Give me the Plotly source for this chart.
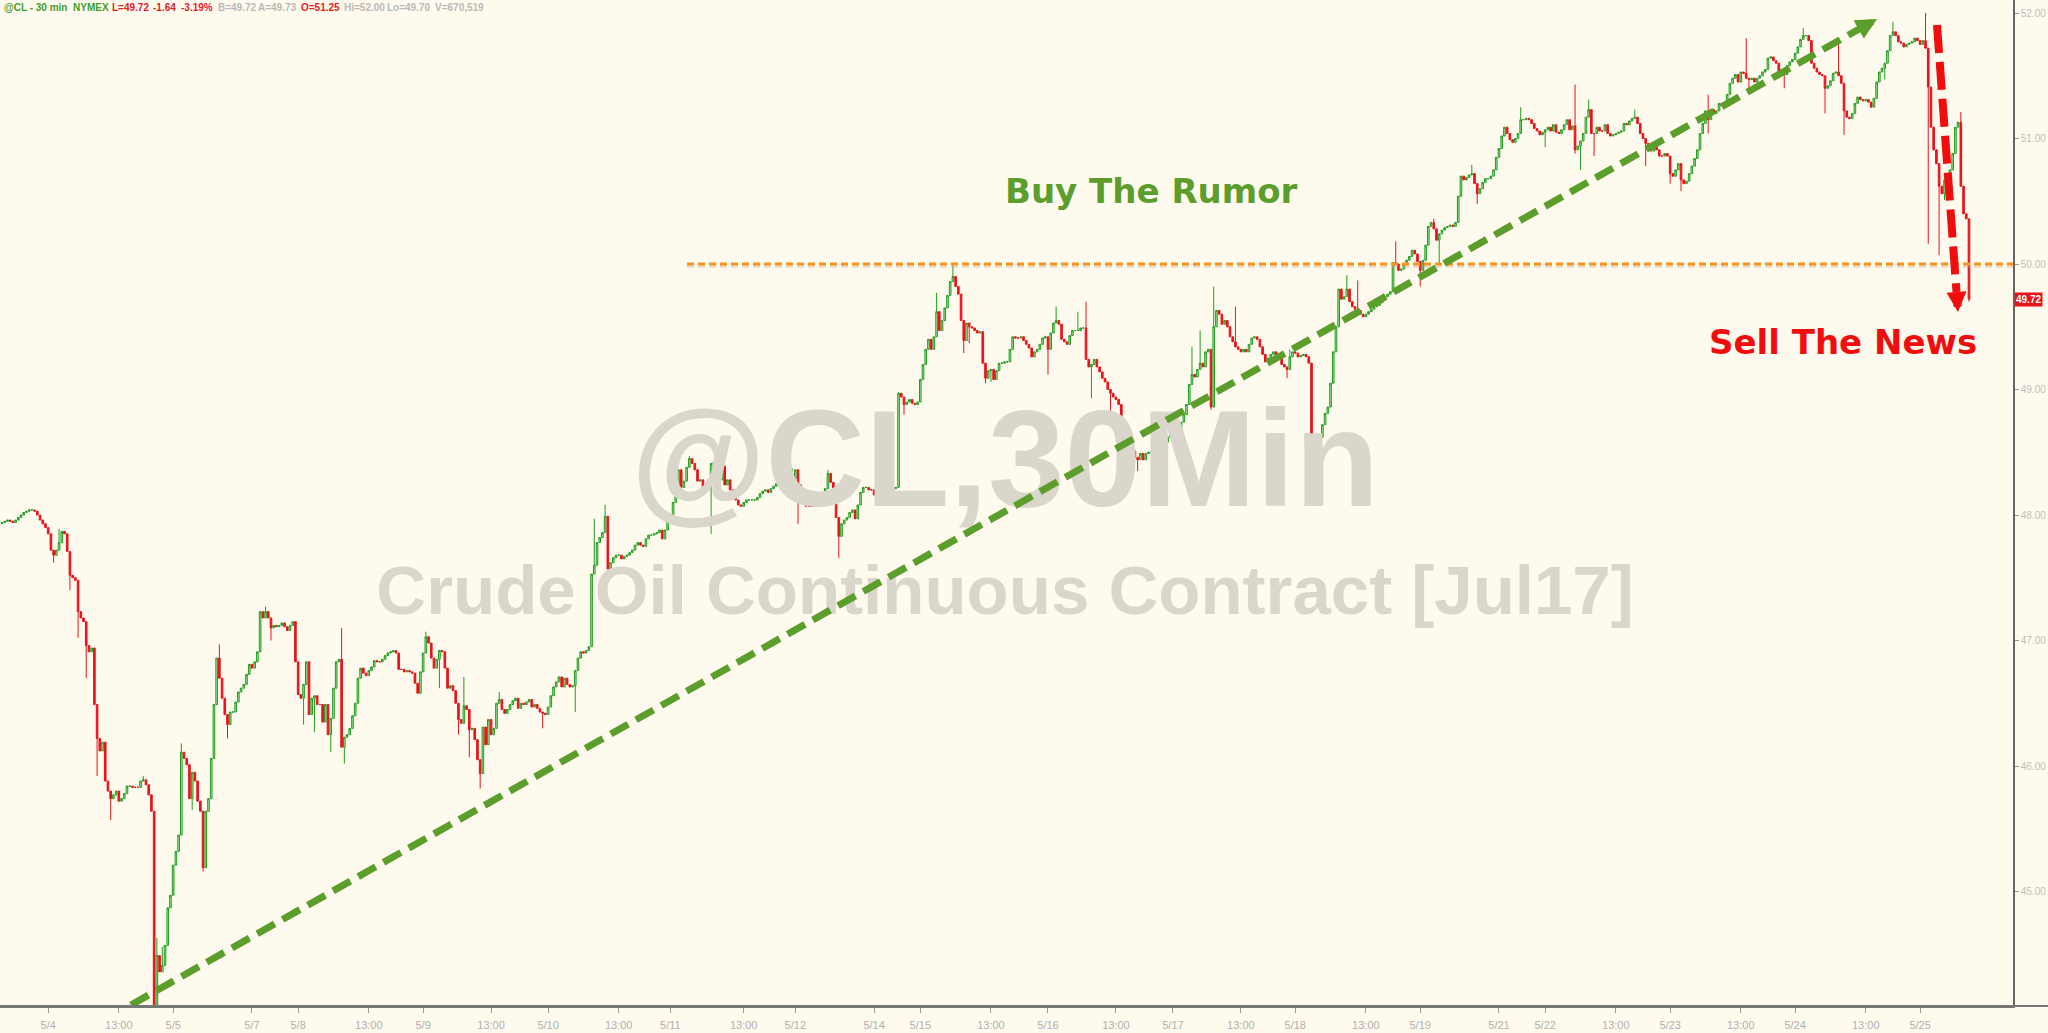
import plotly.graph_objects as go

# ---------------- data (30-min closes) ----------------
close_may4_8 = [47.94, 47.95, 47.96, 47.95, 47.94, 47.96, 47.98, 48.00, 48.02, 48.03, 48.04, 48.04, 48.03, 48.00, 47.96,
                47.93, 47.90, 47.85, 47.72, 47.68, 47.72, 47.78, 47.87, 47.85, 47.71, 47.52, 47.50, 47.48, 47.23, 47.18,
                47.15, 46.96, 46.91, 46.94, 46.49, 46.22, 46.12, 46.19, 45.88, 45.80, 45.74, 45.77, 45.80, 45.72, 45.74,
                45.78, 45.84, 45.84, 45.83,
                45.83, 45.83, 45.88, 45.89, 45.85, 45.77, 45.64, 44.09, 44.49, 44.36, 44.41, 44.57, 44.87, 44.97, 45.21,
                45.32, 45.45, 46.11, 46.06, 46.01, 45.74, 45.95, 45.88, 45.72, 45.64, 45.19, 45.64, 45.74, 46.06, 46.49,
                46.86, 46.70, 46.54, 46.41, 46.33, 46.43, 46.43, 46.51, 46.59, 46.62, 46.65, 46.73, 46.81, 46.78, 46.83,
                46.91, 47.23, 47.18, 47.23, 47.18, 47.10, 47.12, 47.11, 47.12, 47.14, 47.11,
                47.08, 47.12, 47.15, 46.83, 46.57, 46.54, 46.65, 46.83, 46.41, 46.54, 46.56, 46.49, 46.49, 46.35, 46.49,
                46.25, 46.38, 46.62, 46.83]
close_may8_11 = [46.85, 46.15,
                 46.23, 46.25, 46.30, 46.40, 46.50, 46.70, 46.78, 46.74, 46.72, 46.76, 46.79, 46.84, 46.83, 46.83, 46.85,
                 46.88, 46.90, 46.91, 46.92, 46.90, 46.77, 46.77, 46.75, 46.76, 46.75, 46.74, 46.66, 46.58, 46.75, 46.90,
                 47.03, 46.98, 46.86, 46.78, 46.85, 46.92, 46.91, 46.78, 46.62, 46.64, 46.60, 46.50, 46.37, 46.34, 46.48,
                 46.45, 46.29, 46.30, 46.21, 46.05, 45.94, 46.31, 46.17, 46.37, 46.25, 46.30, 46.50, 46.53, 46.45, 46.42,
                 46.45, 46.49, 46.52, 46.54, 46.46, 46.50, 46.49, 46.51, 46.53, 46.47, 46.49, 46.46, 46.43, 46.42, 46.41,
                 46.47, 46.56, 46.63, 46.67, 46.71, 46.63, 46.70, 46.65, 46.63, 46.64, 46.76, 46.86, 46.91, 46.90, 46.92,
                 46.95, 47.53, 47.60, 47.78, 47.82, 47.86, 47.99, 47.57, 47.62, 47.66, 47.68, 47.68, 47.65, 47.67, 47.68,
                 47.70, 47.72, 47.76, 47.78, 47.76, 47.75, 47.81, 47.84, 47.84, 47.85, 47.86, 47.88, 47.81, 47.88, 47.95]
close_may11_15 = [48.00, 48.10, 48.18, 48.36, 48.22, 48.27, 48.38, 48.45, 48.41, 48.36, 48.27, 48.28, 48.22, 48.20, 48.28,
                  48.41, 48.42, 48.32, 48.28, 48.39, 48.24, 48.28, 48.20, 48.15, 48.12, 48.08, 48.07, 48.10, 48.12, 48.12,
                  48.12, 48.12, 48.14, 48.17, 48.19, 48.20, 48.18, 48.21, 48.23, 48.25, 48.24, 48.21, 48.20, 48.20, 48.24,
                  48.29, 48.36, 48.24, 48.17, 48.10, 48.07, 48.07, 48.07, 48.08, 48.07, 48.11, 48.16, 48.21, 48.33, 48.26,
                  48.14, 47.98, 47.83, 47.93, 47.96, 47.98, 48.02, 48.04, 47.97, 48.08, 48.18, 48.22, 48.22, 48.20, 48.20,
                  48.16, 48.09, 48.08, 48.10, 48.12, 48.15, 48.19, 48.21, 48.22, 48.97, 48.94, 48.88, 48.90, 48.92, 48.89,
                  48.88, 48.90, 49.08, 49.20, 49.32, 49.40, 49.32, 49.42, 49.62, 49.47, 49.55, 49.65, 49.75, 49.86, 49.90,
                  49.82, 49.76, 49.55, 49.39, 49.53, 49.50, 49.49, 49.47, 49.45, 49.46, 49.21, 49.09, 49.15, 49.16, 49.08,
                  49.15]
close_may15_18 = [49.21, 49.21, 49.22, 49.22,
                  49.32, 49.42, 49.41, 49.41, 49.42, 49.39, 49.36, 49.33, 49.26, 49.30, 49.32, 49.36, 49.41, 49.42, 49.32,
                  49.45, 49.53, 49.55, 49.52, 49.40, 49.38, 49.36, 49.43, 49.47, 49.47, 49.47, 49.49, 49.49, 49.24, 49.18,
                  49.20, 49.24, 49.18, 49.14, 49.09, 49.06, 49.00, 48.97, 48.94, 48.92, 48.88, 48.75, 48.56, 48.61, 48.58,
                  48.51, 48.46, 48.44, 48.49, 48.44, 48.49, 48.50, 48.50, 48.50, 48.50, 48.54, 48.56, 48.58, 48.62, 48.68,
                  48.62, 48.55, 48.66, 48.74, 48.80, 48.88, 49.04, 49.12, 49.10, 49.16, 49.21, 49.18, 49.30, 49.32, 48.86,
                  49.50, 49.63, 49.60, 49.52, 49.55, 49.50, 49.42, 49.38, 49.34, 49.32, 49.30, 49.32, 49.30, 49.36, 49.41,
                  49.42, 49.40, 49.34, 49.28, 49.22, 49.25, 49.28, 49.30, 49.26, 49.26, 49.20, 49.18, 49.16, 49.26, 49.30,
                  49.29, 49.26, 49.27, 49.28, 49.26, 49.21, 48.52, 48.49, 48.55, 48.62,
                  48.72, 48.81, 48.86]
close_may18_23 = [49.05, 49.30,
                  49.50, 49.80, 49.72, 49.74, 49.80, 49.70, 49.66, 49.64, 49.63, 49.60, 49.58, 49.60, 49.62, 49.64, 49.66,
                  49.67, 49.69, 49.71, 49.74, 49.76, 49.78, 50.01, 50.00, 49.95, 49.96, 50.00, 50.03, 50.06, 50.11, 50.08,
                  50.02, 49.95, 50.03, 50.15, 50.30, 50.33, 50.28, 50.19, 50.24, 50.27, 50.29, 50.30, 50.31, 50.30, 50.33,
                  50.54, 50.70, 50.67, 50.69, 50.71, 50.72, 50.64, 50.56, 50.60, 50.65, 50.68, 50.68, 50.70, 50.75, 50.85,
                  50.92, 51.02, 51.09, 51.04, 50.99, 50.97, 51.00, 51.04, 51.15, 51.15, 51.16, 51.15, 51.12, 51.08, 51.06,
                  51.03, 51.05, 51.07, 51.09, 51.06, 51.11, 51.05, 51.04, 51.07, 51.11, 51.15, 51.07, 51.10, 50.91, 50.94,
                  50.98, 51.04, 51.17, 51.23, 51.04, 51.04, 51.09, 51.06, 51.06, 51.11, 51.04, 51.02, 51.03, 51.04, 51.05,
                  51.06, 51.12, 51.11, 51.14, 51.16, 51.17, 51.12, 51.04, 51.00, 50.96,
                  50.92, 50.90, 50.94, 50.91]
close_may23_25 = [50.86, 50.86, 50.88, 50.86, 50.72, 50.70,
                  50.75, 50.80, 50.67, 50.64, 50.66, 50.72, 50.78, 50.84, 50.91, 51.04, 51.12, 51.22, 51.15, 51.23, 51.20,
                  51.22, 51.28, 51.26, 51.28, 51.35, 51.44, 51.48, 51.51, 51.45, 51.53, 51.52, 51.48, 51.47, 51.48, 51.45,
                  51.48, 51.50, 51.53, 51.55, 51.64, 51.65, 51.62, 51.60, 51.53, 51.55, 51.51, 51.58, 51.61, 51.63, 51.68,
                  51.73, 51.79, 51.82, 51.82, 51.78, 51.60, 51.56, 51.53, 51.51, 51.50, 51.40, 51.42, 51.46, 51.52, 51.53,
                  51.50, 51.44, 51.22, 51.17, 51.16, 51.20, 51.28, 51.33, 51.31, 51.30, 51.31, 51.29, 51.25, 51.32, 51.45,
                  51.53, 51.56, 51.60, 51.70, 51.82, 51.85, 51.82, 51.77, 51.76, 51.73, 51.75, 51.76, 51.77, 51.80, 51.78,
                  51.75, 51.78, 51.72, 51.41, 51.09, 50.91, 50.80, 50.62, 50.56, 50.67, 50.62, 50.75, 50.88, 51.09, 51.13,
                  50.62, 50.40, 50.36, 49.72]
first_open = 47.93

# notable wicks (bar index, high, low)
wick_bars = [10, 19, 21, 25, 28, 31, 35, 40, 52, 56, 57, 59, 66, 70, 74, 80, 83, 97, 99, 111, 115, 121, 125, 126,
             156, 161, 168, 170, 172, 176, 183, 199, 211, 218, 222, 224, 253, 261, 264, 291, 293, 304, 308, 330,
             332, 344, 350, 354, 356, 362, 364, 385, 388, 396, 399, 401, 408, 418, 438, 441, 445, 446, 454, 473,
             474, 482, 483, 495, 499, 513, 522, 527, 529, 541, 543, 559, 568, 579, 581, 584, 586, 601, 605, 614,
             618, 628, 642, 643, 656, 663, 671, 676, 678, 693, 696, 708, 709, 713, 715, 721, 724]
wick_high = [48.05, None, 47.89, None, None, None, None, None, 45.92, None, 44.63, 44.56, 46.18, None, None, 46.97,
             None, 47.27, None, None, None, None, 47.10, None,
             47.07, None, None, 46.71, None, None, 46.59, None, None, 47.97, 48.08, None, 48.47, None, 48.53, 48.37,
             None, 48.36, None, 48.98,
             None, 49.77, 50.00, None, None, None, None, None, 49.66, 49.62, 49.70, None, None, None, 49.34, 49.47,
             None, 49.82, 49.66, None,
             49.32, None, None, 49.91, 49.87, 50.18, None, 50.36, None, 50.79, None, 51.25, None, 51.43, None, 51.31,
             None, 51.23, None, None,
             None, 51.35, 51.80, None, None, 51.88, None, 51.79, None, None, 51.93, 52.00, None, None, None, 51.21,
             None]
wick_low = [None, 47.62, None, 47.40, 47.02, 46.70, 45.92, 45.57, None, 44.07, None, None, None, 45.65, 45.16, None,
            46.22, None, 47.00, 46.33, 46.27, 46.11, None, 46.02,
            None, 46.62, 46.25, None, 46.07, 45.82, None, 46.30, 46.43, None, None, 47.53, None, 47.85, None, None,
            47.93, None, 47.66, None,
            48.80, None, None, 49.29, 49.37, 49.05, 49.06, 49.12, None, None, None, 48.93, 48.81, 48.35, None, None,
            48.84, None, None, 49.09,
            None, 48.45, 48.36, None, None, None, 49.82, None, 50.00, None, 50.48, None, 50.93, 50.88, 50.75, None,
            50.86, None, 50.78, 50.64,
            50.58, 51.04, None, 51.37, 51.40, None, 51.20, None, 51.03, 51.47, None, None, 50.16, 50.07, 50.51, None,
            49.70]

tick_bars = [17, 43, 63, 92, 109, 135, 155, 180, 201, 227, 246, 273, 292, 321, 338, 364, 385, 410, 431, 456, 476,
             502, 522, 551, 568, 594, 614, 640, 660, 686, 706]
tick_labels = ["5/4", "13:00", "5/5", "5/7", "5/8", "13:00", "5/9", "13:00", "5/10", "13:00", "5/11", "13:00",
               "5/12", "5/14", "5/15", "13:00", "5/16", "13:00", "5/17", "13:00", "5/18", "13:00", "5/19", "5/21",
               "5/22", "13:00", "5/23", "13:00", "5/24", "13:00", "5/25"]
price_ticks = [45, 46, 47, 48, 49, 50, 51, 52]
last_price = 49.72
resistance = 50.00

header_tokens = ["@CL - 30 min", "NYMEX", "L=49.72", "-1.64", "-3.19%", "B=49.72", "A=49.73", "O=51.25",
                 "Hi=52.00", "Lo=49.70", "V=670,519"]
header_kinds = ["g", "g", "r", "r", "r", "n", "n", "r", "n", "n", "n"]

# ---------------- build OHLC ----------------
closes = close_may4_8 + close_may8_11 + close_may11_15 + close_may15_18 + close_may18_23 + close_may23_25
opens = [first_open] + closes[:-1]
highs = [max(o, c) for o, c in zip(opens, closes)]
lows = [min(o, c) for o, c in zip(opens, closes)]
for b, h, l in zip(wick_bars, wick_high, wick_low):
    if h is not None:
        highs[b] = max(highs[b], h)
    if l is not None:
        lows[b] = min(lows[b], l)
xs = list(range(len(closes)))

# ---------------- geometry ----------------
W, H = 2048, 1033
ML, MR, MT, MB = 0, 35, 0, 27
PW, PH = W - ML - MR, H - MT - MB
X0, X1 = -0.74, 740.2
Y0, Y1 = 44.0877, 52.1036
BG = "#fffaee"
GREEN = "#5c9e2c"
RED = "#f00d0d"


def px_to_data(px, py):
    return X0 + (px - ML) / PW * (X1 - X0), Y1 - (py - MT) / PH * (Y1 - Y0)


fig = go.Figure()

# watermark (behind candles)
wx, wy1 = px_to_data(1005, 471)
_, wy2 = px_to_data(1005, 597)
fig.add_trace(go.Scatter(x=[wx], y=[wy1], mode="text", text=["<b>@CL,30Min</b>"],
                         textfont=dict(size=138, color="#dbd6cb", family="Liberation Sans, Arial"),
                         hoverinfo="skip", showlegend=False))
fig.add_trace(go.Scatter(x=[wx], y=[wy2], mode="text", text=["<b>Crude Oil Continuous Contract [Jul17]</b>"],
                         textfont=dict(size=69, color="#dbd6cb", family="Liberation Sans, Arial"),
                         hoverinfo="skip", showlegend=False))

fig.add_trace(go.Candlestick(
    x=xs, open=opens, high=highs, low=lows, close=closes,
    increasing=dict(line=dict(color="#1f9e1f", width=1), fillcolor="#a8e89f"),
    decreasing=dict(line=dict(color="#e8131b", width=1), fillcolor="#e8131b"),
    whiskerwidth=0, showlegend=False, hoverinfo="skip"))

shapes = []
# resistance line at 50.00
rx0, _ = px_to_data(687, 0)
shapes.append(dict(type="line", xref="x", yref="y", x0=rx0, x1=X1, y0=resistance - 2.5 / 125.5,
                   y1=resistance - 2.5 / 125.5, line=dict(color="rgba(210,170,120,0.35)", width=3, dash="7px,4px")))
shapes.append(dict(type="line", xref="x", yref="y", x0=rx0, x1=X1, y0=resistance, y1=resistance,
                   line=dict(color="#f7941d", width=3, dash="7px,4px")))

# green trend arrow
gx0, gy0 = px_to_data(131, 1005)
gxe, gye = px_to_data(1861, 28)
gxt, gyt = px_to_data(1877, 19)
shapes.append(dict(type="line", xref="x", yref="y", x0=gx0, y0=gy0, x1=gxe, y1=gye,
                   line=dict(color=GREEN, width=7, dash="20px,9px")))
# red arrow
sx0, sy0 = px_to_data(1937, 25)
sxe, sye = px_to_data(1956.5, 292)
sxt, syt = px_to_data(1958, 312)
shapes.append(dict(type="line", xref="x", yref="y", x0=sx0, y0=sy0, x1=sxe, y1=sye,
                   line=dict(color=RED, width=8, dash="28px,9px")))
# bottom axis line spanning full width
shapes.append(dict(type="line", xref="paper", yref="paper", x0=0, x1=W / PW, y0=0, y1=0,
                   line=dict(color="#777777", width=2)))

annotations = []
annotations.append(dict(x=gxt, y=gyt, ax=gxe, ay=gye, xref="x", yref="y", axref="x", ayref="y", text="",
                        showarrow=True, arrowhead=2, arrowsize=0.6, arrowwidth=7, arrowcolor=GREEN))
annotations.append(dict(x=sxt, y=syt, ax=sxe, ay=sye, xref="x", yref="y", axref="x", ayref="y", text="",
                        showarrow=True, arrowhead=2, arrowsize=0.5, arrowwidth=8, arrowcolor=RED))
annotations.append(dict(x=1151 / PW, y=1 - 191 / PH, xref="paper", yref="paper", xanchor="center",
                        yanchor="middle", text="<b>Buy The Rumor</b>",
                        showarrow=False, font=dict(family="DejaVu Sans", size=34, color=GREEN)))
annotations.append(dict(x=1843 / PW, y=1 - 342 / PH, xref="paper", yref="paper", xanchor="center",
                        yanchor="middle", text="<b>Sell The News</b>",
                        showarrow=False, font=dict(family="DejaVu Sans", size=34, color=RED)))
annotations.append(dict(x=1, y=last_price, xref="paper", yref="y", xanchor="left", yanchor="middle", xshift=1,
                        text="<b>%.2f</b>" % last_price, showarrow=False, bgcolor="#e8131b", borderpad=1,
                        font=dict(family="Liberation Sans, Arial", size=10, color="white")))
header_x = [2, 71, 110, 151, 179, 216, 256, 299, 342, 385, 433]
kind_color = {"g": "#3f9e2a", "r": "#e3202a", "n": "#b9b9b9"}
for tok, kind, hx in zip(header_tokens, header_kinds, header_x):
    annotations.append(dict(x=hx / PW, y=1 - 7.5 / PH, xref="paper", yref="paper", xanchor="left",
                            yanchor="middle", text="<b>%s</b>" % tok, showarrow=False,
                            font=dict(family="Liberation Sans, Arial", size=10, color=kind_color[kind])))

fig.update_layout(
    width=W, height=H, margin=dict(l=ML, r=MR, t=MT, b=MB),
    paper_bgcolor=BG, plot_bgcolor=BG, showlegend=False, hovermode=False, boxgap=0.15,
    shapes=shapes, annotations=annotations,
    xaxis=dict(range=[X0, X1], tickmode="array", tickvals=tick_bars, ticktext=tick_labels,
               ticks="outside", ticklen=5, tickcolor="#999999", tickwidth=1, ticklabelstandoff=3,
               showline=True, linecolor="#777777", linewidth=2, showgrid=False, zeroline=False,
               tickfont=dict(family="Liberation Sans Narrow, Arial Narrow, sans-serif", size=11, color="#b0b0b0"),
               rangeslider=dict(visible=False), fixedrange=True),
    yaxis=dict(range=[Y0, Y1], side="right", tickmode="array", tickvals=price_ticks,
               ticktext=["%.2f" % v for v in price_ticks], ticks="outside", ticklen=4, tickcolor="#999999",
               showline=True, linecolor="#666666", linewidth=1.5, showgrid=False, zeroline=False,
               tickfont=dict(family="Liberation Sans, Arial", size=10, color="#bdbdbd"), fixedrange=True),
)

fig.write_html("out.html", config={"displayModeBar": False},
               post_script="document.body.style.margin='0';document.body.style.overflow='hidden';")
